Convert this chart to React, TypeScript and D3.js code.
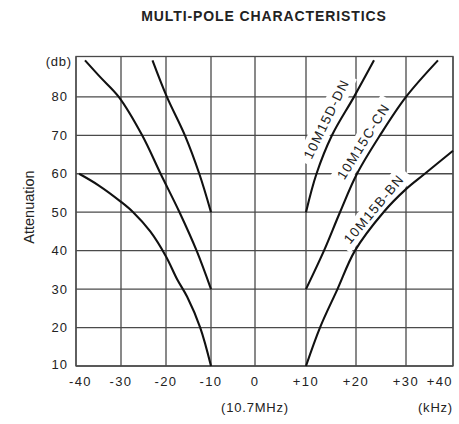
import React from 'react';
import * as d3 from 'd3';

// tick values
const xTicks = [-40, -30, -20, -10, 0, 10, 20, 30, 40];
const xTickLabels = ['-40', '-30', '-20', '-10', '0', '+10', '+20', '+30', '+40'];
const yTicks = [10, 20, 30, 40, 50, 60, 70, 80];

// curves: [kHz, dB]
const bLeft: [number, number][] = [[-39.3, 60], [-35, 57], [-30, 52.7], [-27.3, 50], [-23.5, 45], [-20, 38.5], [-17.5, 32.5], [-15.3, 28], [-12.4, 20], [-10, 10]];
const cLeft: [number, number][] = [[-38, 89.5], [-34.5, 85], [-30.5, 80], [-25.3, 70], [-21.2, 60], [-17, 50], [-13.2, 40], [-10, 30]];
const dLeft: [number, number][] = [[-23, 89.5], [-19.8, 80], [-15.8, 70], [-12.6, 60], [-10, 50]];
const dRight: [number, number][] = [[10, 50], [12.1, 60], [15.2, 70], [19.6, 80], [23.6, 89.5]];
const cRight: [number, number][] = [[10, 30], [13.6, 40], [16.8, 50], [20.2, 60], [24.8, 70], [30, 80], [36.8, 89.5]];
const bRight: [number, number][] = [[10, 10], [12.8, 20], [16.3, 30], [19.8, 40], [25.5, 50], [30, 56], [34, 60], [40, 66]];

const curves = [bLeft, cLeft, dLeft, dRight, cRight, bRight];

// curve labels: text, centre on chart [kHz, dB], angle
const curveLabels = [
  { text: '10M15D-DN', at: [14.1, 74.2], angle: -64 },
  { text: '10M15C-CN', at: [21.5, 68.4], angle: -58 },
  { text: '10M15B-BN', at: [23.6, 50.8], angle: -50 },
];

const font = '"Liberation Sans", Arial, sans-serif';

export default function App() {
  const width = 459, height = 424;

  // the scanned grid is a bit wider on the right of centre
  const x = d3.scaleLinear()
    .domain(xTicks)
    .range([76, 121, 166, 211, 255, 306, 356, 406, 453]);
  const y = d3.scaleLinear().domain([10, 90.5]).range([366, 56.5]);

  const line = d3.line<[number, number]>()
    .x(d => x(d[0]))
    .y(d => y(d[1]))
    .curve(d3.curveCatmullRom.alpha(0.5));

  const gridColor = '#4a4a4a';

  return (
    <svg width={width} height={height} style={{ position: 'absolute', left: 0, top: 0 }}>
      <text x={264} y={21} textAnchor="middle" fontFamily={font} fontWeight="bold" fontSize={14} letterSpacing={0.9} fill="#222">
        MULTI-POLE CHARACTERISTICS
      </text>

      {/* grid */}
      {xTicks.map(t => (
        <line key={'gx' + t} x1={x(t)} x2={x(t)} y1={y(10)} y2={y(90.5)} stroke={gridColor} strokeWidth={1.3} />
      ))}
      {yTicks.map(t => (
        <line key={'gy' + t} x1={x(-40)} x2={x(40)} y1={y(t)} y2={y(t)} stroke={gridColor} strokeWidth={1.3} />
      ))}
      <rect x={x(-40)} y={y(90.5)} width={x(40) - x(-40)} height={y(10) - y(90.5)} fill="none" stroke={gridColor} strokeWidth={1.3} />

      {/* white boxes behind curve labels */}
      {curveLabels.map(l => (
        <g key={'bg' + l.text} transform={`translate(${x(l.at[0])},${y(l.at[1])}) rotate(${l.angle})`}>
          <rect x={-49} y={-10} width={98} height={20} fill="#fff" />
        </g>
      ))}

      {curves.map((c, i) => (
        <path key={'c' + i} d={line(c) ?? ''} fill="none" stroke="#111" strokeWidth={2.1} />
      ))}

      {curveLabels.map(l => (
        <g key={'lb' + l.text} transform={`translate(${x(l.at[0])},${y(l.at[1])}) rotate(${l.angle})`}>
          <text textAnchor="middle" dominantBaseline="central" fontFamily={font} fontSize={13.5} letterSpacing={1.3} fill="#222">
            {l.text}
          </text>
        </g>
      ))}

      {/* y labels */}
      {yTicks.map(t => (
        <text key={'yl' + t} x={68} y={y(t) - (t === 10 ? 2 : 0)} textAnchor="end" dominantBaseline="central" fontFamily={font} fontSize={13} letterSpacing={1} fill="#222">
          {t}
        </text>
      ))}
      <text x={72} y={61} textAnchor="end" dominantBaseline="central" fontFamily={font} fontSize={13} letterSpacing={0.8} fill="#222">(db)</text>
      <text transform={`translate(29,207) rotate(-90)`} textAnchor="middle" dominantBaseline="central" fontFamily={font} fontSize={14.5} fill="#222">
        Attenuation
      </text>

      {/* x labels */}
      {xTicks.map((t, i) => {
        const first = i === 0, last = i === xTicks.length - 1;
        return (
          <text key={'xl' + t} x={first ? x(t) - 7 : x(t)} y={386}
            textAnchor={first ? 'start' : last ? 'end' : 'middle'}
            fontFamily={font} fontSize={13} letterSpacing={1.4} fill="#222">
            {xTickLabels[i]}
          </text>
        );
      })}
      <text x={x(0)} y={412} textAnchor="middle" fontFamily={font} fontSize={13} letterSpacing={0.8} fill="#222">(10.7MHz)</text>
      <text x={453} y={412} textAnchor="end" fontFamily={font} fontSize={13} letterSpacing={0.8} fill="#222">(kHz)</text>
    </svg>
  );
}
